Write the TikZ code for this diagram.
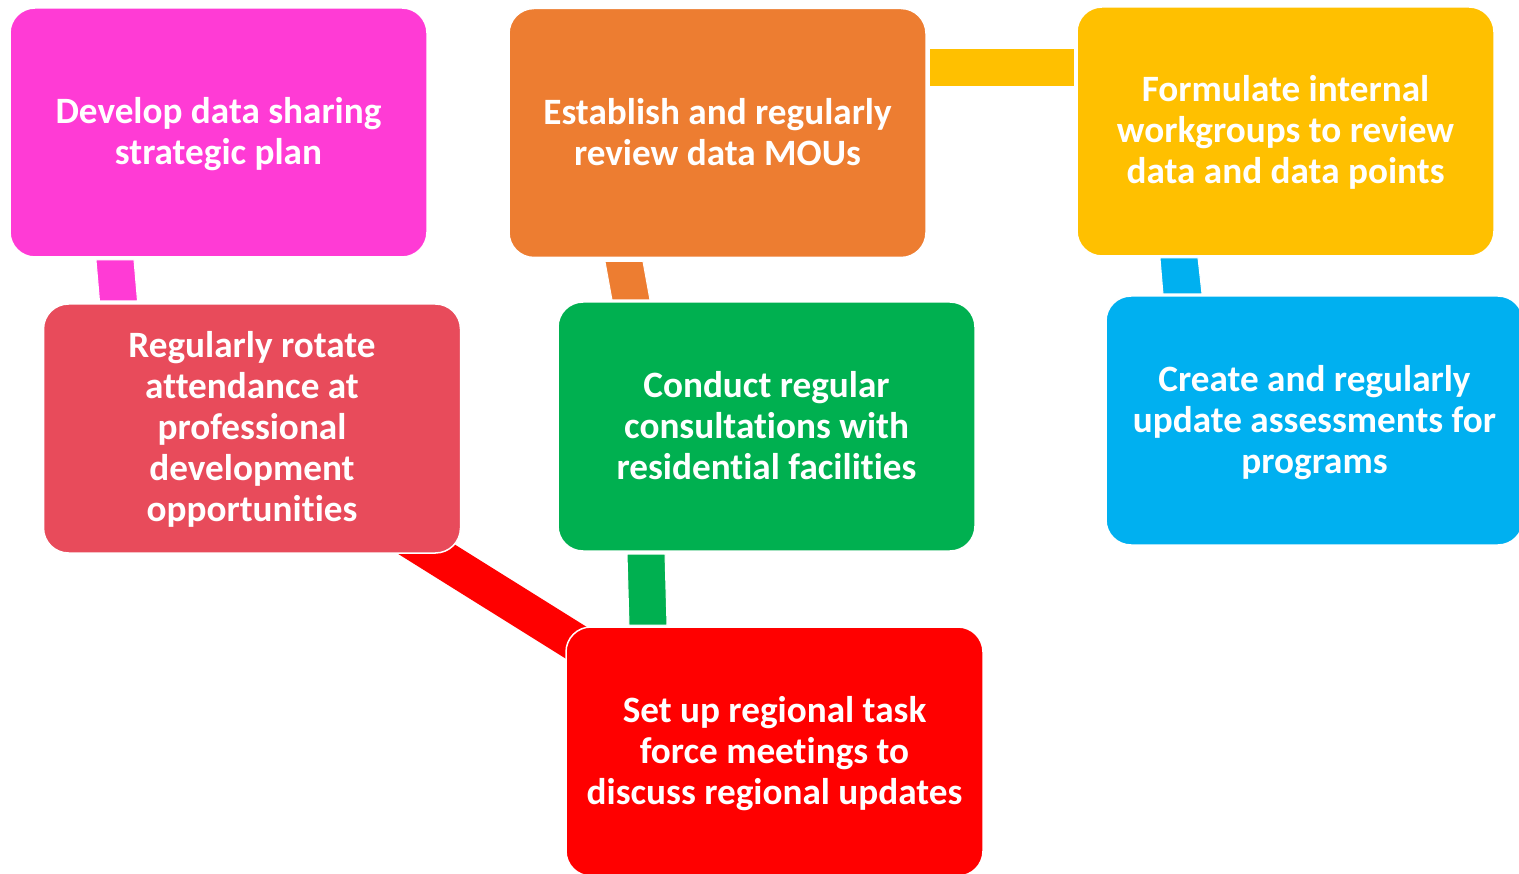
\documentclass[tikz,border=0pt]{standalone}
\usepackage{fontspec}
\setmainfont{Carlito}[RawFeature=-liga]
\usetikzlibrary{calc,backgrounds}
\definecolor{cMag}{HTML}{FF3BD5}
\definecolor{cOra}{HTML}{ED7D31}
\definecolor{cYel}{HTML}{FFC000}
\definecolor{cRos}{HTML}{E84B5B}
\definecolor{cGre}{HTML}{00B050}
\definecolor{cBlu}{HTML}{00B0F0}
\definecolor{cRed}{HTML}{FF0000}
\begin{document}
\begin{tikzpicture}[x=1pt,y=-1pt,
  card/.style={draw=white, line width=1.5pt, rounded corners=25pt,
    minimum width=417pt, minimum height=249pt, inner sep=0pt, outer sep=0pt,
    align=center, text=white, font=\fontsize{37.2}{41}\selectfont\bfseries},
  cardtext/.style={text=white, align=center, font=\fontsize{37.2}{41}\selectfont\bfseries},
  bar/.style={draw=white, line width=1pt}]
\useasboundingbox (0,0) rectangle (1519,874);
\clip (0,0) rectangle (1519,874);

% cards
\node[card, fill=cMag] (dev)  at (218.5,132.5) {};
\node[card, fill=cOra] (est)  at (717.5,133) {};
\node[card, fill=cYel] (form) at (1285.5,131.5) {};
\node[card, fill=cRos] (rot)  at (252,428.5) {};
\node[card, fill=cGre] (con)  at (766.5,426.5) {};
\node[card, fill=cBlu] (cre)  at (1314.5,420.5) {};
\node[card, fill=cRed] (set)  at (774.5,751.5) {};

% texts
\node[cardtext, yshift=-2pt] (tdev)  at (dev)  {Develop data sharing\\strategic plan};
\node[cardtext, yshift=1pt]  (test)  at (est)  {Establish and regularly\\review data MOUs};
\node[cardtext, yshift=-1pt] (tform) at (form) {Formulate internal\\workgroups to review\\data and data points};
\node[cardtext, yshift=-1pt] (trot)  at (rot)  {Regularly rotate\\attendance at\\professional\\development\\opportunities};
\node[cardtext, yshift=1pt]  (tcon)  at (con)  {Conduct regular\\consultations with\\residential facilities};
\node[cardtext, yshift=-2pt] (tcre)  at (cre)  {Create and regularly\\update assessments for\\programs};
\node[cardtext, yshift=-2pt] (tset)  at (set)  {Set up regional task\\force meetings to\\discuss regional updates};

% connectors
\begin{scope}[on background layer]
\filldraw[bar, fill=cMag] ($(dev.south west)+(86,3)$) -- ($(dev.south west)+(124,3)$)
  -- ($(rot.north west)+(94,-3)$) -- ($(rot.north west)+(56,-3)$) -- cycle;
\filldraw[bar, fill=cOra] ($(est.south west)+(96,4)$) -- ($(est.south west)+(134,4)$)
  -- ($(con.north west)+(92,-2)$) -- ($(con.north west)+(54,-2)$) -- cycle;
\filldraw[bar, fill=cYel] ($(est.north east)+(3,40)$) rectangle ($(form.north west)+(-3,80)$);
\filldraw[bar, fill=cBlu] ($(form.south west)+(83,2)$) -- ($(form.south west)+(121,2)$)
  -- ($(cre.north west)+(96,-2)$) -- ($(cre.north west)+(57,-2)$) -- cycle;
\filldraw[bar, fill=cGre] ($(con.south west)+(69,3)$) -- ($(con.south west)+(107,3)$)
  -- ($(set.north west)+(101,-2)$) -- ($(set.north west)+(63,-2)$) -- cycle;
\draw[white, line width=40pt] ($(rot.south east)+(-84,-35)$) -- ($(set.north west)+(73,55)$);
\draw[cRed, line width=38pt] ($(rot.south east)+(-84,-35)$) -- ($(set.north west)+(73,55)$);
\end{scope}
\end{tikzpicture}
\end{document}
